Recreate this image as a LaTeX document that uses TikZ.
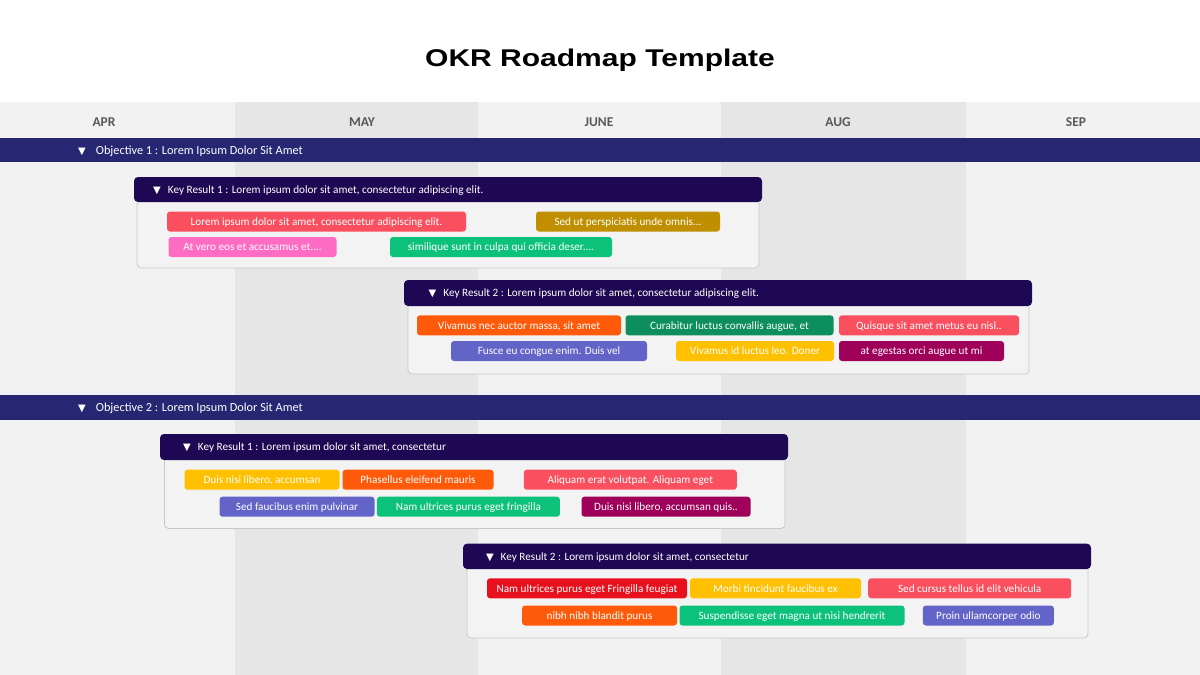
\documentclass[tikz,border=0pt]{standalone}
\usepackage{fontspec}
\setmainfont{Carlito}
\newfontfamily\titlefont[FakeStretch=1.24]{Liberation Sans}
\newfontfamily\symfont{DejaVu Sans}
\newcommand{\tri}{{\symfont\fontsize{10}{10}\selectfont ▼}}

\definecolor{colLight}{HTML}{F2F2F2}
\definecolor{colDark}{HTML}{E6E6E6}
\definecolor{objNavy}{HTML}{262673}
\definecolor{krPurple}{HTML}{1F0853}
\definecolor{bodyGray}{HTML}{F3F3F3}
\definecolor{borderGray}{HTML}{C8C8C8}
\definecolor{monthGray}{HTML}{595959}
\definecolor{tRed}{HTML}{F94F5E}
\definecolor{tGold}{HTML}{BF8F00}
\definecolor{tPink}{HTML}{FF6CC4}
\definecolor{tGreen}{HTML}{0CC27B}
\definecolor{tOrange}{HTML}{FF5A0A}
\definecolor{tTeal}{HTML}{0D8E5E}
\definecolor{tBlue}{HTML}{6264C8}
\definecolor{tYellow}{HTML}{FFC000}
\definecolor{tMagenta}{HTML}{9E005A}
\definecolor{tCrimson}{HTML}{E8101C}

\tikzset{
	month/.style={font=\bfseries\fontsize{13.5}{15}\selectfont, text=monthGray},
	objtext/.style={anchor=base west, text=white, inner sep=0pt, font=\fontsize{12.3}{14}\selectfont},
	krtext/.style={anchor=base west, text=white, inner sep=0pt, font=\fontsize{11.2}{13}\selectfont},
	objbar/.style={fill=objNavy},
	krhead/.style={fill=krPurple, rounded corners=4pt},
	krbody/.style={fill=bodyGray, draw=borderGray, line width=0.8pt, rounded corners=4pt},
	task/.style={fill=#1, text=white, rounded corners=3pt, minimum height=20, inner sep=0pt,
		text height=9pt, text depth=1.5pt, font=\fontsize{11.2}{13}\selectfont},
}

\begin{document}
\begin{tikzpicture}[x=1pt, y=-1pt]
			\useasboundingbox (0,0) rectangle (1200,675);
			\fill[white] (0,0) rectangle (1200,102);
			\node[anchor=base, font=\titlefont\bfseries\fontsize{24.2}{28}\selectfont] (title) at (600, 66.8){OKR Roadmap Template};

			\fill[colLight] (0,102) rectangle (235,675);
			\fill[colDark] (235,102) rectangle (478,675);
			\fill[colLight] (478,102) rectangle (721,675);
			\fill[colDark] (721,102) rectangle (966,675);
			\fill[colLight] (966,102) rectangle (1200,675);
				\node[month] (apr) at (104, 122.5){APR};
				\node[month] (may) at (362, 122.5){MAY};
				\node[month] (jun) at (599, 122.5){JUNE};
				\node[month] (aug) at (838, 122.5){AUG};
				\node[month] (sep) at (1076, 122.5){SEP};

			\fill[objbar] (0,138) rectangle (1200,162);
				\node[objtext] (obj1) at (78, 154.3){\tri\hspace{10pt}Objective 1 : Lorem Ipsum Dolor Sit Amet};

				\draw[krbody] (137,195) rectangle (759,268);
				\fill[krhead] (134,177) rectangle (762,202);
				\node[krtext] (kr11) at (153, 193.3){\tri\hspace{7pt}Key Result 1 : Lorem ipsum dolor sit amet, consectetur adipiscing elit.};
					\node[task=tRed, minimum width=299] (t11a) at (316.5, 221.5){Lorem ipsum dolor sit amet, consectetur adipiscing elit.};
					\node[task=tGold, minimum width=184] (t11b) at (628, 221.5){Sed ut perspiciatis unde omnis...};
					\node[task=tPink, minimum width=168] (t11c) at (252.5, 247){At vero eos et accusamus et....};
					\node[task=tGreen, minimum width=222] (t11d) at (501, 247){similique sunt in culpa qui officia deser....};

				\draw[krbody] (408,299) rectangle (1029,374);
				\fill[krhead] (404,280) rectangle (1032,306);
				\node[krtext] (kr12) at (428.5, 296.8){\tri\hspace{7pt}Key Result 2 : Lorem ipsum dolor sit amet, consectetur adipiscing elit.};
					\node[task=tOrange, minimum width=204] (t12a) at (519, 325.3){Vivamus nec auctor massa, sit amet};
					\node[task=tTeal, minimum width=208] (t12b) at (729.5, 325.3){Curabitur luctus convallis augue, et};
					\node[task=tRed, minimum width=180] (t12c) at (929, 325.3){Quisque sit amet metus eu nisl..};
					\node[task=tBlue, minimum width=196] (t12d) at (549, 351){Fusce eu congue enim. Duis vel};
					\node[task=tYellow, minimum width=158] (t12e) at (755, 351){Vivamus id luctus leo. Doner};
					\node[task=tMagenta, minimum width=165] (t12f) at (921.5, 351){at egestas orci augue ut mi};

			\fill[objbar] (0,395) rectangle (1200,420);
				\node[objtext] (obj2) at (78, 411.5){\tri\hspace{10pt}Objective 2 : Lorem Ipsum Dolor Sit Amet};

				\draw[krbody] (164.5,453) rectangle (785,528.5);
				\fill[krhead] (160,434) rectangle (788,460);
				\node[krtext] (kr21) at (183, 450.8){\tri\hspace{7pt}Key Result 1 : Lorem ipsum dolor sit amet, consectetur};
					\node[task=tYellow, minimum width=155] (t21a) at (262, 479.7){Duis nisi libero, accumsan};
					\node[task=tOrange, minimum width=151] (t21b) at (418, 479.7){Phasellus eleifend mauris};
					\node[task=tRed, minimum width=213] (t21c) at (630.3, 479.7){Aliquam erat volutpat. Aliquam eget};
					\node[task=tBlue, minimum width=155] (t21d) at (297, 506.7){Sed faucibus enim pulvinar};
					\node[task=tGreen, minimum width=183] (t21e) at (468.4, 506.7){Nam ultrices purus eget fringilla};
					\node[task=tMagenta, minimum width=169] (t21f) at (666, 506.7){Duis nisi libero, accumsan quis..};

				\draw[krbody] (467,562) rectangle (1088,638);
				\fill[krhead] (463,543.7) rectangle (1091,569);
				\node[krtext] (kr22) at (485.8, 560.2){\tri\hspace{7pt}Key Result 2 : Lorem ipsum dolor sit amet, consectetur};
					\node[task=tCrimson, minimum width=200] (t22a) at (587, 588.3){Nam ultrices purus eget Fringilla feugiat};
					\node[task=tYellow, minimum width=171] (t22b) at (775.5, 588.3){Morbi tincidunt faucibus ex};
					\node[task=tRed, minimum width=203] (t22c) at (969.7, 588.3){Sed cursus tellus id elit vehicula};
					\node[task=tOrange, minimum width=155] (t22d) at (599.6, 615.5){nibh nibh blandit purus};
					\node[task=tGreen, minimum width=225] (t22e) at (792, 615.5){Suspendisse eget magna ut nisi hendrerit};
					\node[task=tBlue, minimum width=131] (t22f) at (988.4, 615.5){Proin ullamcorper odio};
		\end{tikzpicture}
\end{document}
